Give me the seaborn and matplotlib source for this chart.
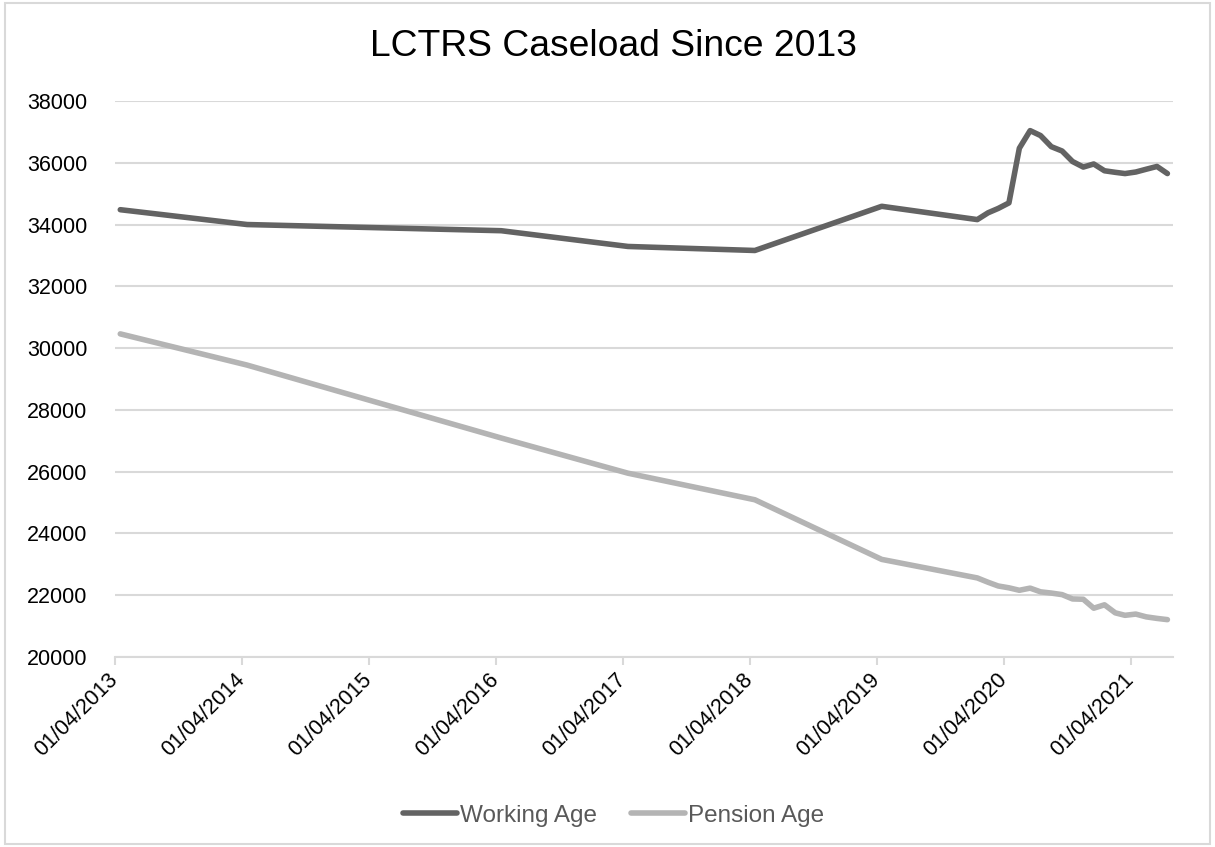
import pandas as pd
import seaborn as sns
import matplotlib.pyplot as plt
import matplotlib.dates as mdates
from matplotlib.patches import Rectangle

# monthly snapshots (points sit mid-month on the date axis)
dates = ["2013-04-16", "2014-04-16", "2015-04-16", "2016-04-16", "2017-04-16",
         "2018-04-16", "2019-04-16", "2020-01-16", "2020-02-16", "2020-03-16",
         "2020-04-16", "2020-05-16", "2020-06-16", "2020-07-16", "2020-08-16",
         "2020-09-16", "2020-10-16", "2020-11-16", "2020-12-16", "2021-01-16",
         "2021-02-16", "2021-03-16", "2021-04-16", "2021-05-16", "2021-06-16",
         "2021-07-16"]
working_age = [34480, 34000, 33900, 33800, 33290, 33160, 34590, 34160, 34380, 34520,
               34700, 36470, 37040, 36880, 36520, 36380, 36040, 35860, 35960, 35740,
               35690, 35650, 35700, 35790, 35880, 35650]
pension_age = [30460, 29450, 28270, 27090, 25950, 25090, 23160, 22560, 22420, 22300,
               22240, 22160, 22230, 22110, 22070, 22020, 21880, 21870, 21580, 21690,
               21430, 21350, 21390, 21300, 21250, 21210]
series = ["Working Age", "Pension Age"]
tick_years = list(range(2013, 2022))

df = pd.DataFrame({"Date": pd.to_datetime(dates), "Working Age": working_age,
                   "Pension Age": pension_age})
veri = df.melt(id_vars="Date", var_name="Group", value_name="Caseload")

sns.set_theme(style="white")
plt.rcParams["font.family"] = ["Liberation Sans", "DejaVu Sans"]

fig = plt.figure(figsize=(12.15, 8.47), dpi=100)
ax = fig.add_axes([0.0947, 0.2243, 0.8707, 0.6565])

sns.lineplot(data=veri, x="Date", y="Caseload", hue="Group", hue_order=series,
             palette=["#636363", "#b4b4b4"], linewidth=4, ax=ax,
             solid_capstyle="round", solid_joinstyle="round")

ax.set_ylim(20000, 38000)
ax.set_yticks(range(20000, 38001, 2000))
ax.set_xlim(pd.Timestamp("2013-04-01"), pd.Timestamp("2021-08-01"))
ax.set_xticks([pd.Timestamp(f"{y}-04-01") for y in tick_years])
ax.xaxis.set_major_formatter(mdates.DateFormatter("%d/%m/%Y"))
ax.set_xlabel("")
ax.set_ylabel("")

ax.yaxis.grid(True, color="#d9d9d9", linewidth=1.5)
ax.set_axisbelow(True)
for s in ["top", "right", "left"]:
    ax.spines[s].set_visible(False)
ax.spines["bottom"].set_color("#d9d9d9")
ax.spines["bottom"].set_linewidth(1.5)

ax.tick_params(axis="y", labelsize=15.5, labelcolor="#000000", length=0, pad=20)
ax.tick_params(axis="x", labelsize=15.5, labelcolor="#000000", bottom=True,
               length=6, width=1.5, color="#d9d9d9", pad=8)
plt.setp(ax.get_xticklabels(), rotation=45, ha="right", va="center",
         rotation_mode="anchor")

fig.text(0.505, 0.945, "LCTRS Caseload Since 2013", ha="center", va="center",
         fontsize=26.8, color="#000000")

sns.move_legend(ax, "center", bbox_to_anchor=(0.471, -0.285), ncol=2, frameon=False,
                title=None, fontsize=17.5, handlelength=2.25, handletextpad=0.1,
                columnspacing=1.4)
for t in ax.get_legend().get_texts():
    t.set_color("#595959")

fig.patches.append(Rectangle((0.004, 0.004), 0.992, 0.992, transform=fig.transFigure,
                             fill=False, edgecolor="#d9d9d9", linewidth=1.5))

plt.savefig("out.png", dpi=100)
